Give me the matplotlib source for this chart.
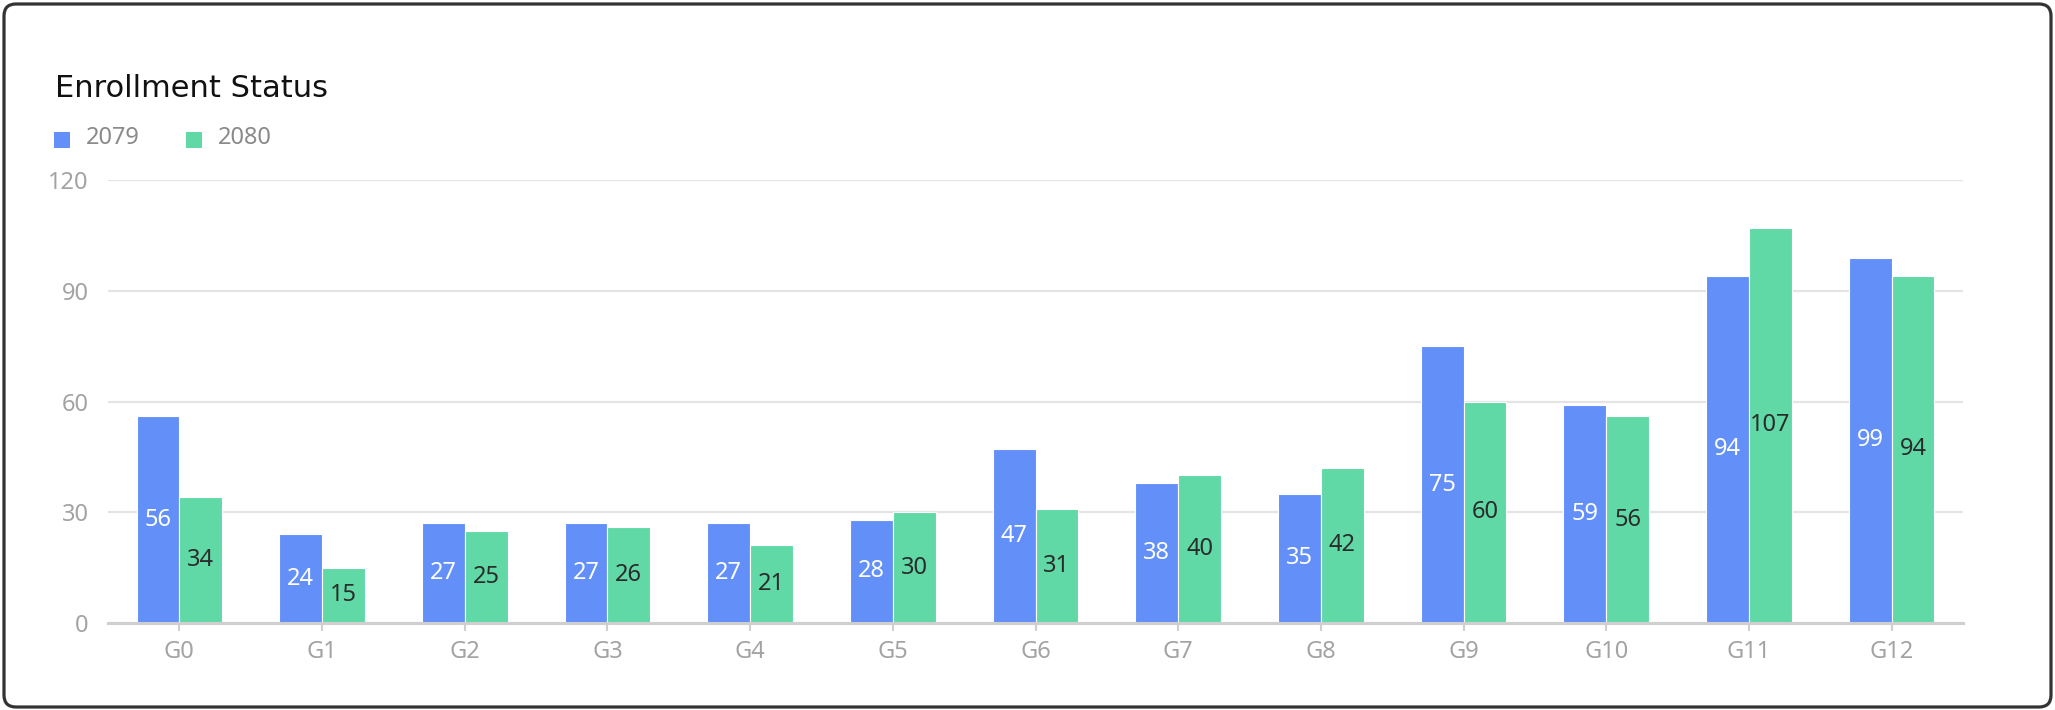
import matplotlib
matplotlib.use("Agg")
import matplotlib.pyplot as plt
import numpy as np
from matplotlib.patches import FancyBboxPatch, Rectangle
from matplotlib.transforms import IdentityTransform

grades = ["G0", "G1", "G2", "G3", "G4", "G5", "G6", "G7", "G8", "G9", "G10", "G11", "G12"]
series_names = ["2079", "2080"]
enroll_2079 = [56, 24, 27, 27, 27, 28, 47, 38, 35, 75, 59, 94, 99]
enroll_2080 = [34, 15, 25, 26, 21, 30, 31, 40, 42, 60, 56, 107, 94]
y_ticks = [0, 30, 60, 90, 120]

blue = "#6390f8"
green = "#60d9a7"
tick_grey = "#a3a3a3"

plt.rcParams['font.family'] = ['Noto Sans', 'DejaVu Sans']

W, H = 2055, 710
fig = plt.figure(figsize=(W / 100, H / 100), dpi=100)
fig.patch.set_facecolor("white")

# axes placed in pixel terms
left, right, bottom, top = 108, 1963, 623, 180
ax = fig.add_axes([left / W, 1 - bottom / H, (right - left) / W, (bottom - top) / H])

x = np.arange(len(grades))
bw = 0.30
b1 = ax.bar(x - bw / 2, enroll_2079, bw, color=blue, edgecolor="white", linewidth=0.8, zorder=3)
b2 = ax.bar(x + bw / 2, enroll_2080, bw, color=green, edgecolor="white", linewidth=0.8, zorder=3)

ax.bar_label(b1, label_type="center", color="white", fontsize=17, zorder=4)
ax.bar_label(b2, label_type="center", color="#2b2b2b", fontsize=17, zorder=4)

ax.set_xlim(-0.5, len(grades) - 0.5)
ax.set_ylim(0, 120)
ax.set_yticks(y_ticks)
ax.set_xticks(x)
ax.set_xticklabels(grades)

# grid
ax.yaxis.grid(True, color="#e4e4e4", linewidth=1.6, zorder=0)
ax.xaxis.grid(False)
for s in ["top", "right", "left"]:
    ax.spines[s].set_visible(False)
ax.spines["bottom"].set_color("#cfcfcf")
ax.spines["bottom"].set_linewidth(2.2)
ax.spines["bottom"].set_zorder(5)

ax.tick_params(axis="y", length=0, pad=14, labelsize=17, labelcolor=tick_grey)
ax.tick_params(axis="x", length=6, width=1.5, color="#cfcfcf", pad=6,
               labelsize=17, labelcolor=tick_grey)

# title
fig.text(55 / W, 1 - 97 / H, "Enrollment Status", fontsize=22, color="#111111",
         family=["DejaVu Sans"], va="baseline", ha="left")

# legend squares + text
fig.patches.append(Rectangle((54, H - 148), 16, 16, transform=IdentityTransform(),
                             facecolor=blue, edgecolor="none"))
fig.text(86 / W, 1 - 138 / H, series_names[0], fontsize=17, color="#8a8a8a",
         va="center", ha="left")
fig.patches.append(Rectangle((186, H - 148), 16, 16, transform=IdentityTransform(),
                             facecolor=green, edgecolor="none"))
fig.text(218 / W, 1 - 138 / H, series_names[1], fontsize=17, color="#8a8a8a",
         va="center", ha="left")

# card border
fig.patches.append(FancyBboxPatch((4, 3), W - 8, H - 7,
                                  boxstyle="round,pad=0,rounding_size=12",
                                  transform=IdentityTransform(),
                                  facecolor="none", edgecolor="#333333", linewidth=2.3))

fig.savefig("out.png", dpi=100)
